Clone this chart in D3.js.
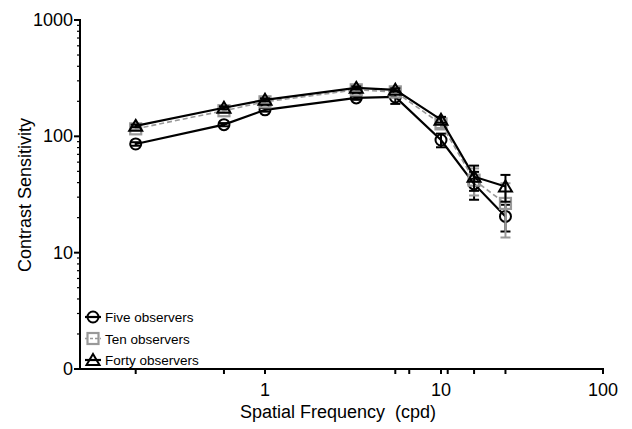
<!DOCTYPE html>
<html>
<head>
<meta charset="utf-8">
<script src="https://cdn.jsdelivr.net/npm/d3@7"></script>
<style>
  body { margin: 0; background: #fff; }
  text { font-family: Arial, "Liberation Sans", Helvetica, sans-serif; fill: #000; }
</style>
</head>
<body>
<svg id="chart" width="632" height="429"></svg>
<script>
// spatial frequencies (cpd)
const freqs = [0.2, 0.6, 1, 3.3, 5.5, 10, 16, 25];

const fiveObs = [86, 126, 169, 214, 218, 93, 39, 20.5];
const fiveErr = [3, 4, 6, 8, 28, 12.5, 10.5, 5.3];
const tenObs = [116, 166, 198, 251, 241, 128, 42, 26.5];
const tenErr = [3, 5, 6, 8, 10, 10, 11, 13];
const fortyObs = [123, 176, 206, 261, 251, 139, 45, 37];
const fortyErr = [3, 5, 6, 8, 8, 8, 11, 9.6];

const seriesNames = ["Five observers", "Ten observers", "Forty observers"];

const xMajorTicks = [1, 10, 100];
const xMinorTicks = [0.2, 0.6, 5.5, 6.6, 11, 16, 25];
const yTicks = [1, 10, 100, 1000];
const yTickLabels = ["0", "10", "100", "1000"];

const svg = d3.select("#chart");

// axis spacing
const x = d3.scaleLog().domain([0.1, 1, 10, 100]).range([80, 265, 441, 603]);
const y = d3.scaleLog().domain([1, 1000]).range([369, 20]);

const series = [
  { name: seriesNames[0], vals: fiveObs, err: fiveErr, color: "#000", dash: null, shape: "circle" },
  { name: seriesNames[1], vals: tenObs, err: tenErr, color: "#999", dash: "5,3", shape: "square" },
  { name: seriesNames[2], vals: fortyObs, err: fortyErr, color: "#000", dash: null, shape: "triangle" }
];

function drawMarker(g, shape, color) {
  if (shape == "circle") {
    g.append("circle").attr("r", 5.5).attr("fill", "none")
      .attr("stroke", color).attr("stroke-width", 2);
  } else if (shape == "square") {
    g.append("rect").attr("x", -5.5).attr("y", -5.5).attr("width", 11).attr("height", 11)
      .attr("fill", "none").attr("stroke", color).attr("stroke-width", 2.2);
  } else {
    g.append("path").attr("d", "M0,-6L6.5,5L-6.5,5Z").attr("fill", "none")
      .attr("stroke", color).attr("stroke-width", 2);
  }
}

// axes
const xAxis = svg.append("g").attr("transform", "translate(0,369)");
xAxis.append("line").attr("x1", 79).attr("x2", 604).attr("stroke", "#000").attr("stroke-width", 2);
xAxis.selectAll(".tk").data(xMajorTicks.concat(xMinorTicks)).join("line")
  .attr("x1", d => x(d)).attr("x2", d => x(d)).attr("y1", 0).attr("y2", 5)
  .attr("stroke", "#000").attr("stroke-width", 2);
xAxis.selectAll(".lb").data(xMajorTicks).join("text")
  .attr("x", d => x(d)).attr("y", 27).attr("text-anchor", "middle")
  .style("font-size", "18px").text(d => d);

const yAxis = svg.append("g").attr("transform", "translate(80,0)");
yAxis.append("line").attr("y1", 19).attr("y2", 370).attr("stroke", "#000").attr("stroke-width", 2);
const yMinor = [];
for (let dec = 1; dec < 1000; dec *= 10) {
  for (let k = 2; k <= 9; k++) yMinor.push(dec * k);
}
yAxis.selectAll(".mn").data(yMinor).join("line")
  .attr("x1", -3).attr("x2", 0).attr("y1", d => y(d)).attr("y2", d => y(d))
  .attr("stroke", "#000").attr("stroke-width", 1.2);
yAxis.selectAll(".tk").data(yTicks).join("line")
  .attr("x1", -6).attr("x2", 0).attr("y1", d => y(d)).attr("y2", d => y(d))
  .attr("stroke", "#000").attr("stroke-width", 2);
yAxis.selectAll(".lb").data(yTicks).join("text")
  .attr("x", -7).attr("y", d => y(d) + 6).attr("text-anchor", "end")
  .style("font-size", "18px").text((d, i) => yTickLabels[i]);

svg.append("text").attr("transform", "translate(31,195) rotate(-90)")
  .attr("text-anchor", "middle").style("font-size", "18px").text("Contrast Sensitivity");
svg.append("text").attr("x", 338).attr("y", 418)
  .attr("text-anchor", "middle").style("font-size", "18px").style("white-space", "pre")
  .text("Spatial Frequency  (cpd)");

// series
const line = d3.line().x(d => x(d[0])).y(d => y(d[1]));

series.forEach(s => {
  const pts = freqs.map((f, i) => [f, s.vals[i], s.err[i]]);
  const g = svg.append("g");
  g.append("path").datum(pts).attr("d", line).attr("fill", "none")
    .attr("stroke", s.color).attr("stroke-width", s.dash ? 1.6 : 2.2)
    .attr("stroke-dasharray", s.dash);

  const eb = g.selectAll(".eb").data(pts).join("g");
  eb.append("line").attr("x1", d => x(d[0])).attr("x2", d => x(d[0]))
    .attr("y1", d => y(d[1] - d[2])).attr("y2", d => y(d[1] + d[2]))
    .attr("stroke", s.color).attr("stroke-width", 2);
  [-1, 1].forEach(sg => {
    eb.append("line").attr("x1", d => x(d[0]) - 5).attr("x2", d => x(d[0]) + 5)
      .attr("y1", d => y(d[1] + sg * d[2])).attr("y2", d => y(d[1] + sg * d[2]))
      .attr("stroke", s.color).attr("stroke-width", 2);
  });

  pts.forEach(d => {
    const m = g.append("g").attr("transform", `translate(${x(d[0])},${y(d[1])})`);
    drawMarker(m, s.shape, s.color);
  });
});

// legend
const legend = svg.append("g");
series.forEach((s, i) => {
  const ly = 317 + i * 21.5;
  const it = legend.append("g").attr("transform", `translate(93,${ly})`);
  it.append("line").attr("x1", -8).attr("x2", 8)
    .attr("stroke", s.color).attr("stroke-width", s.dash ? 1.6 : 2.2)
    .attr("stroke-dasharray", s.dash ? "3,2" : null);
  drawMarker(it, s.shape, s.color);
  legend.append("text").attr("x", 105).attr("y", ly + 5)
    .style("font-size", "13.5px").text(s.name);
});
</script>
</body>
</html>
